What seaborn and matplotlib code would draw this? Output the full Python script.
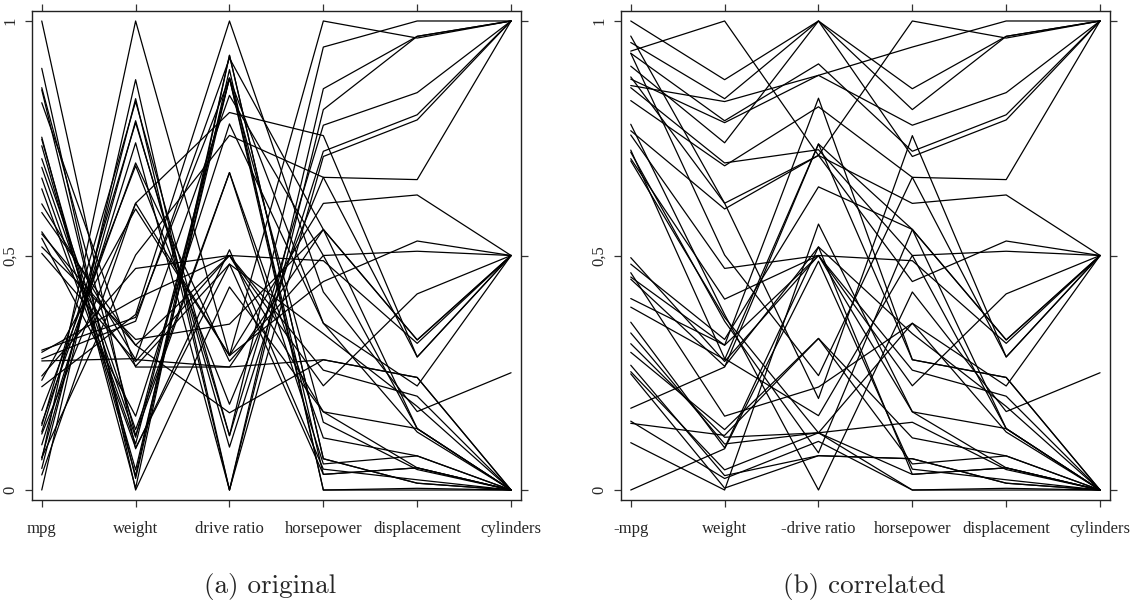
import numpy as np
import pandas as pd
import matplotlib
matplotlib.use("Agg")
import matplotlib.pyplot as plt
import seaborn as sns

# Cars 1978-79 (Henderson & Velleman) - 38 cars
cars = ["Buick Estate Wagon", "Ford Country Squire Wagon", "Chevy Malibu Wagon",
        "Chrysler LeBaron Wagon", "Chevette", "Toyota Corona", "Datsun 510",
        "Dodge Omni", "Audi 5000", "Volvo 240 GL", "Saab 99 GLE", "Peugeot 694 SL",
        "Buick Century Special", "Mercury Zephyr", "Dodge Aspen", "AMC Concord D/L",
        "Chevy Caprice Classic", "Ford LTD", "Mercury Grand Marquis", "Dodge St Regis",
        "Ford Mustang 4", "Ford Mustang Ghia", "Mazda GLC", "Dodge Colt", "AMC Spirit",
        "VW Scirocco", "Honda Accord LX", "Buick Skylark", "Chevy Citation",
        "Olds Omega", "Pontiac Phoenix", "Plymouth Horizon", "Datsun 210",
        "Fiat Strada", "VW Dasher", "Datsun 810", "BMW 320i", "VW Rabbit"]
mpg = [16.9, 15.5, 19.2, 18.5, 30.0, 27.5, 27.2, 30.9, 20.3, 17.0, 21.6, 16.2,
       20.6, 20.8, 18.6, 18.1, 17.0, 17.6, 16.5, 18.2, 26.5, 21.9, 34.1, 35.1,
       27.4, 31.5, 29.5, 28.4, 28.8, 26.8, 33.5, 34.2, 31.8, 37.3, 30.5, 22.0,
       21.5, 31.9]
weight = [4.360, 4.054, 3.605, 3.940, 2.155, 2.560, 2.300, 2.230, 2.830, 3.140,
          2.795, 3.410, 3.380, 3.070, 3.620, 3.410, 3.840, 3.725, 3.955, 3.830,
          2.585, 2.910, 1.975, 1.915, 2.670, 1.990, 2.135, 2.670, 2.595, 2.700,
          2.556, 2.200, 2.020, 2.130, 2.190, 2.815, 2.600, 1.925]
drive_ratio = [2.73, 2.26, 2.56, 2.45, 3.70, 3.05, 3.54, 3.37, 3.90, 3.50, 3.77,
               3.58, 2.73, 3.08, 2.71, 2.73, 2.41, 2.26, 2.26, 2.45, 3.08, 3.08,
               3.73, 2.97, 3.08, 3.78, 3.05, 2.53, 2.69, 2.84, 2.69, 3.37, 3.70,
               3.10, 3.70, 3.70, 3.64, 3.78]
horsepower = [155, 142, 125, 150, 68, 95, 97, 75, 103, 125, 115, 133, 105, 85,
              110, 120, 130, 129, 138, 135, 88, 109, 65, 80, 80, 71, 68, 90, 115,
              115, 90, 70, 65, 69, 78, 97, 110, 71]
displacement = [350, 351, 267, 360, 98, 134, 119, 105, 131, 163, 121, 163, 231,
                200, 225, 258, 305, 302, 351, 318, 140, 171, 86, 98, 121, 89, 98,
                151, 173, 173, 151, 105, 85, 91, 97, 146, 121, 89]
cylinders = [8, 8, 8, 8, 4, 4, 4, 4, 5, 6, 4, 6, 6, 6, 6, 6, 8, 8, 8, 8, 4, 6,
             4, 4, 4, 4, 4, 4, 6, 6, 4, 4, 4, 4, 4, 6, 4, 4]

labels_a = ["mpg", "weight", "drive ratio", "horsepower", "displacement", "cylinders"]
labels_b = ["-mpg", "weight", "-drive ratio", "horsepower", "displacement", "cylinders"]
flip_b = [True, False, True, False, False, False]
ytick_vals = [0, 0.5, 1]
ytick_labels = ["0", "0,5", "1"]
captions = ["(a) original", "(b) correlated"]

raw = pd.DataFrame({"mpg": mpg, "weight": weight, "drive ratio": drive_ratio,
                    "horsepower": horsepower, "displacement": displacement,
                    "cylinders": cylinders}, index=cars)
norm = (raw - raw.min()) / (raw.max() - raw.min())

def long_form(df, flips):
    d = df.copy()
    for col, f in zip(d.columns, flips):
        if f:
            d[col] = 1 - d[col]
    d.columns = range(len(d.columns))
    d = d.reset_index().rename(columns={"index": "car"})
    return d.melt(id_vars="car", var_name="pos", value_name="value")

sns.set_style("ticks")
plt.rcParams["font.family"] = ["Liberation Serif", "DejaVu Serif"]

fig = plt.figure(figsize=(11.39, 6.10), dpi=100)
W, H = 1139, 610
axes = [fig.add_axes([32 / W, 1 - 500 / H, 489 / W, 489 / H]),
        fig.add_axes([621 / W, 1 - 500 / H, 489 / W, 489 / H])]

for ax, labels, flips, cap, cx in zip(axes, [labels_a, labels_b],
                                      [[False] * 6, flip_b], captions, [270, 864]):
    lf = long_form(norm, flips)
    sns.lineplot(data=lf, x="pos", y="value", units="car", estimator=None,
                 color="black", lw=0.9, ax=ax, legend=False)
    ax.set_xlim(-0.104, 5.106)
    ax.set_ylim(-0.0213, 1.0213)
    ax.set_xticks(range(6))
    ax.set_xticklabels(labels, fontsize=12)
    ax.set_yticks(ytick_vals)
    ax.set_yticklabels(ytick_labels, fontsize=12, rotation=90, va="center")
    ax.set_xlabel("")
    ax.set_ylabel("")
    ax.tick_params(direction="out", length=5, width=0.9, color="#333333",
                   top=True, right=True, labeltop=False, labelright=False)
    ax.tick_params(axis="x", pad=10)
    ax.tick_params(axis="y", pad=5)
    for s in ax.spines.values():
        s.set_visible(True)
        s.set_linewidth(1.0)
        s.set_color("#222222")
    fig.text(cx / W, 1 - 587 / H, cap, ha="center", va="center",
             fontsize=19.5, family="cmr10")

fig.savefig("out.png", dpi=100)
